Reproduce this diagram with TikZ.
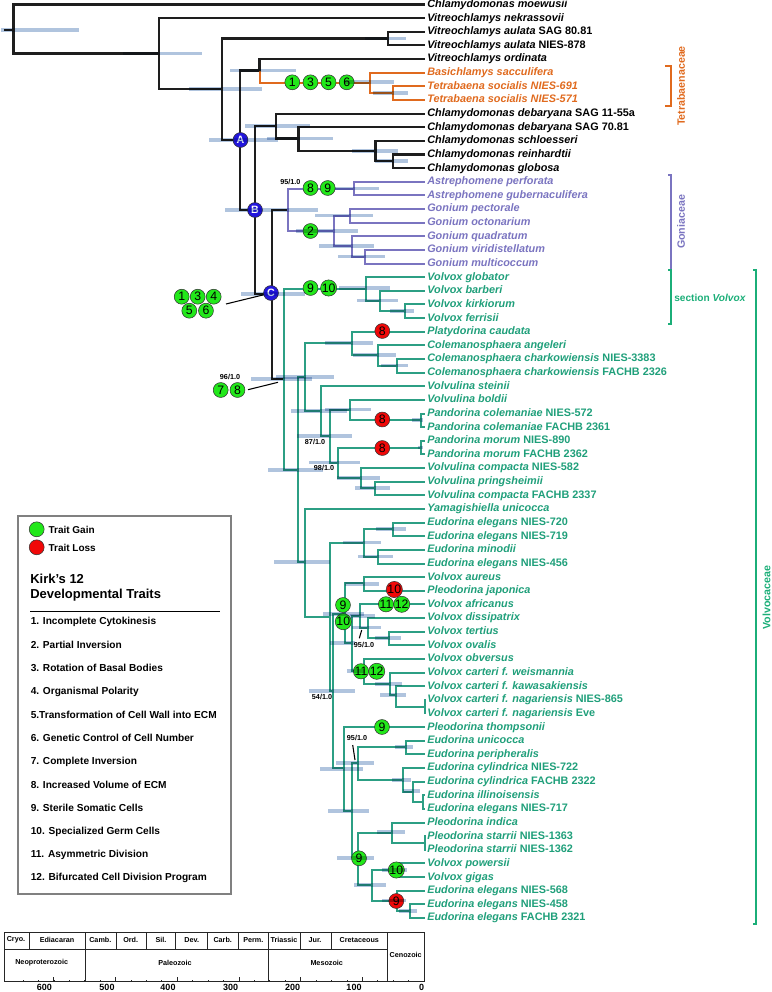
\documentclass[tikz,border=0pt]{standalone}
\usepackage{fontspec}
\setmainfont{Liberation Sans}
\definecolor{blkline}{HTML}{1E1E1E}
\definecolor{tetra}{HTML}{E06A1E}
\definecolor{goni}{HTML}{7A74C0}
\definecolor{volv}{HTML}{2C9F84}
\definecolor{volvtxt}{HTML}{1F9F7A}
\definecolor{brk}{HTML}{1BAE78}
\definecolor{gainc}{HTML}{22E81A}
\definecolor{lossc}{HTML}{F00808}
\definecolor{cladec}{HTML}{2216DC}
\definecolor{hpd}{HTML}{B0C4DE}
\begin{document}
\begin{tikzpicture}[x=.75pt, y=-.75pt, node distance={13.6pt},
  taxon/.style={anchor=west, font=\fontsize{8.15pt}{9pt}\selectfont\bfseries\itshape, inner ysep=0pt, inner xsep=1.5pt, text height=6pt, text depth=1.6pt},
  trait/.style={draw=black!80, line width=.4pt, circle, minimum size=11.2pt, inner sep=0pt, font=\fontsize{9.2pt}{10pt}\selectfont},
  gain/.style={trait, fill=gainc},
  loss/.style={trait, fill=lossc},
  clade/.style={trait, fill=cladec, text=white, font=\fontsize{8pt}{9pt}\selectfont\bfseries},
  blkedge/.style={draw=blkline, line width=1.55pt},
  orgedge/.style={draw=tetra, line width=1.5pt},
  puredge/.style={draw=goni, line width=1.5pt},
  grnedge/.style={draw=volv, line width=1.5pt},
  bar/.style={draw=hpd, line width=2.5pt, blend mode=multiply},
  support/.style={font=\fontsize{5.4pt}{6pt}\selectfont\bfseries, inner sep=0pt},
  legtext/.style={anchor=west, inner sep=0pt, font=\fontsize{7.6pt}{8pt}\selectfont\bfseries},
  era/.style={inner sep=0pt, font=\fontsize{5.4pt}{6pt}\selectfont\bfseries},
  scaleline/.style={draw=black!85, line width=.6pt}]
\useasboundingbox (0,0) rectangle (771,992);

\foreach \i/\txt/\col in {1/{Chlamydomonas moewusii}/black, 2/{Vitreochlamys nekrassovii}/black,
  3/{Vitreochlamys aulata \textup{SAG 80.81}}/black, 4/{Vitreochlamys aulata \textup{NIES-878}}/black,
  5/{Vitreochlamys ordinata}/black, 6/{Basichlamys sacculifera}/tetra,
  7/{Tetrabaena socialis NIES-691}/tetra, 8/{Tetrabaena socialis NIES-571}/tetra,
  9/{Chlamydomonas debaryana \textup{SAG 11-55a}}/black, 10/{Chlamydomonas debaryana \textup{SAG 70.81}}/black,
  11/{Chlamydomonas schloesseri}/black, 12/{Chlamydomonas reinhardtii}/black, 13/{Chlamydomonas globosa}/black,
  14/{Astrephomene perforata}/goni, 15/{Astrephomene gubernaculifera}/goni, 16/{Gonium pectorale}/goni,
  17/{Gonium octonarium}/goni, 18/{Gonium quadratum}/goni, 19/{Gonium viridistellatum}/goni, 20/{Gonium multicoccum}/goni,
  21/{Volvox globator}/volvtxt, 22/{Volvox barberi}/volvtxt, 23/{Volvox kirkiorum}/volvtxt, 24/{Volvox ferrisii}/volvtxt,
  25/{Platydorina caudata}/volvtxt, 26/{Colemanosphaera angeleri}/volvtxt,
  27/{Colemanosphaera charkowiensis \textup{NIES-3383}}/volvtxt, 28/{Colemanosphaera charkowiensis \textup{FACHB 2326}}/volvtxt,
  29/{Volvulina steinii}/volvtxt, 30/{Volvulina boldii}/volvtxt,
  31/{Pandorina colemaniae \textup{NIES-572}}/volvtxt, 32/{Pandorina colemaniae \textup{FACHB 2361}}/volvtxt,
  33/{Pandorina morum \textup{NIES-890}}/volvtxt, 34/{Pandorina morum \textup{FACHB 2362}}/volvtxt,
  35/{Volvulina compacta \textup{NIES-582}}/volvtxt, 36/{Volvulina pringsheimii}/volvtxt,
  37/{Volvulina compacta \textup{FACHB 2337}}/volvtxt, 38/{Yamagishiella unicocca}/volvtxt,
  39/{Eudorina elegans \textup{NIES-720}}/volvtxt, 40/{Eudorina elegans \textup{NIES-719}}/volvtxt,
  41/{Eudorina minodii}/volvtxt, 42/{Eudorina elegans \textup{NIES-456}}/volvtxt,
  43/{Volvox aureus}/volvtxt, 44/{Pleodorina japonica}/volvtxt, 45/{Volvox africanus}/volvtxt,
  46/{Volvox dissipatrix}/volvtxt, 47/{Volvox tertius}/volvtxt, 48/{Volvox ovalis}/volvtxt, 49/{Volvox obversus}/volvtxt,
  50/{Volvox carteri f. weismannia}/volvtxt, 51/{Volvox carteri f. kawasakiensis}/volvtxt,
  52/{Volvox carteri f. nagariensis \textup{NIES-865}}/volvtxt, 53/{Volvox carteri f. nagariensis \textup{Eve}}/volvtxt,
  54/{Pleodorina thompsonii}/volvtxt, 55/{Eudorina unicocca}/volvtxt, 56/{Eudorina peripheralis}/volvtxt,
  57/{Eudorina cylindrica \textup{NIES-722}}/volvtxt, 58/{Eudorina cylindrica \textup{FACHB 2322}}/volvtxt,
  59/{Eudorina illinoisensis}/volvtxt, 60/{Eudorina elegans \textup{NIES-717}}/volvtxt, 61/{Pleodorina indica}/volvtxt,
  62/{Pleodorina starrii \textup{NIES-1363}}/volvtxt, 63/{Pleodorina starrii \textup{NIES-1362}}/volvtxt,
  64/{Volvox powersii}/volvtxt, 65/{Volvox gigas}/volvtxt, 66/{Eudorina elegans \textup{NIES-568}}/volvtxt,
  67/{Eudorina elegans \textup{NIES-458}}/volvtxt, 68/{Eudorina elegans \textup{FACHB 2321}}/volvtxt}
  {\pgfmathsetmacro\y{4.5+13.634*(\i-1)}
   \node[taxon, text=\col] (t\i) at (425,\y) {\txt};}

\foreach \n/\x/\y in {stub/4/30, root/13.5/30, n1/159/53.5, n2/222/89, n3/388/38.5, nA/240/140, n4/259.5/70.5,
  n5/369.5/82.5, n6/393/93, nB/255/210, n7/276/126, n8/298.5/138.5, n9/375.5/151, n10/393/161, nC/272/294,
  g1/288/210, g2/354/188.5, g3/334/231, g4/350/215.5, g5/352/246, g6/365/256.5,
  v1/283.5/379, v2/365.7/288.5, v3/380/300.7, v4/405/311, v5/297.5/470, v6/305/377, v7/351.5/343, v8/378/355,
  v9/397/365.5, v10/320.7/411, v11/329.5/436, v12/350/409.5, v13/420.7/420, v14/338/462.5, v15/420.7/447.5,
  v16/361/478, v17/374.5/488, w1/305/562, w2/330/617, w3/364/542.5, w4/393/529, w5/378/556.5, w6/333/691,
  w7/345/614, w8/364/583.3, w9/351.7/643, w10/359.5/616, w11/368.3/627.7, w12/389/638, w13/364/671, w14/390/684,
  w15/396/695, w16/424.5/706.5, e1/344/768, e2/351.7/811, e3/357.7/763, e4/406/747, e5/402.7/780, e6/412.7/791.5,
  e7/422.7/802, e8/358.3/857, e9/392.3/832.7, e10/424.5/843, e11/371.7/885, e12/397/870, e13/397/900.7, e14/410/911}
  {\coordinate (\n) at (\x,\y);}

\draw[blkedge] (stub) -- (root);
\foreach \p/\c in {root/t1, root/n1, n1/t2, n1/n2, n2/n3, n2/nA, n3/t3, n3/t4, nA/n4, nA/nB, n4/t5, nB/n7, nB/nC,
  n7/t9, n7/n8, n8/t10, n8/n9, n9/t11, n9/n10, n10/t12, n10/t13, nC/v1}
  \draw[blkedge] (\p) |- (\c);
\draw[blkedge] (nC) |- (g1);
\foreach \p/\c in {n4/n5, n5/t6, n5/n6, n6/t7, n6/t8}
  \draw[orgedge] (\p) |- (\c);
\foreach \p/\c in {g1/g2, g1/g3, g2/t14, g2/t15, g3/g4, g3/g5, g4/t16, g4/t17, g5/t18, g5/g6, g6/t19, g6/t20}
  \draw[puredge] (\p) |- (\c);
\foreach \p/\c in {v1/v2, v1/v5, v2/t21, v2/v3, v3/t22, v3/v4, v4/t23, v4/t24, v5/v6, v5/w1, v6/v7, v6/v10,
  v7/t25, v7/v8, v8/t26, v8/v9, v9/t27, v9/t28, v10/t29, v10/v11, v11/v12, v11/v14, v12/t30, v12/v13, v13/t31, v13/t32,
  v14/v15, v14/v16, v15/t33, v15/t34, v16/t35, v16/v17, v17/t36, v17/t37, w1/t38, w1/w2, w2/w3, w2/w6, w3/w4, w3/w5,
  w4/t39, w4/t40, w5/t41, w5/t42, w6/w7, w6/e1, w7/w8, w7/w9, w8/t43, w8/t44, w9/w10, w9/w13, w10/t45, w10/w11,
  w11/t46, w11/w12, w12/t47, w12/t48, w13/t49, w13/w14, w14/t50, w14/w15, w15/t51, w15/w16, w16/t52, w16/t53,
  e1/t54, e1/e2, e2/e3, e2/e8, e3/e4, e3/e5, e4/t55, e4/t56, e5/t57, e5/e6, e6/t58, e6/e7, e7/t59, e7/t60,
  e8/e9, e8/e11, e9/t61, e9/e10, e10/t62, e10/t63, e11/e12, e11/e13, e12/t64, e12/t65, e13/t66, e13/e14, e14/t67, e14/t68}
  \draw[grnedge] (\p) |- (\c);

\node[gain] (a1) at (292.3,82.3) {1};
\node[gain] (a3) [right of=a1] {3};
\node[gain] (a5) [right of=a3] {5};
\node[gain] (a6) [right of=a5] {6};
\node[gain] (b8) at (310.5,188) {8};
\node[gain] (b9) [right of=b8, node distance=12.9pt] {9};
\node[gain] (b2) at (310.5,231) {2};
\node[gain] (c9) at (310.5,288) {9};
\node[gain] (c10) [right of=c9] {10};
\node[gain] (d1) at (181.7,296.7) {1};
\node[gain] (d3) [right of=d1, node distance=12pt] {3};
\node[gain] (d4) [right of=d3, node distance=12pt] {4};
\node[gain] (d5) at (189.3,310.7) {5};
\node[gain] (d6) [right of=d5, node distance=12.5pt] {6};
\node[gain] (f7) at (220.7,390) {7};
\node[gain] (f8) [right of=f7, node distance=12.6pt] {8};
\node[loss] (l1) at (382.3,331) {8};
\node[loss] (l2) at (382.3,419.5) {8};
\node[loss] (l3) at (382.3,448) {8};
\node[gain] (h9) at (343,605) {9};
\node[gain] (h10) at (343.3,621.7) {10};
\node[loss] (l4) at (394.3,589.5) {10};
\node[gain] (j11) at (386,604.3) {11};
\node[gain] (j12) [right of=j11, node distance=11.8pt] {12};
\node[gain] (k11) at (361,671.3) {11};
\node[gain] (k12) [right of=k11, node distance=11.8pt] {12};
\node[gain] (m9) at (382,727) {9};
\node[gain] (p9) at (359,858.3) {9};
\node[gain] (p10) at (396.3,870) {10};
\node[loss] (l5) at (396.3,901) {9};
\node[clade] (A) at (240.5,140) {A};
\node[clade] (B) at (255,210) {B};
\node[clade] (C) at (271,293) {C};

\foreach \y/\a/\b in {30/1/79, 53.5/123/202, 89/189/262, 38.5/365/406, 140/209/278, 70.5/230/296, 82/345/394, 93/373/408,
  126/245/310, 138.5/267/333, 151/352/398, 161/375/408, 210/225/318, 188.5/335/379, 231/296/358, 215.5/315/373,
  246/319/374, 256.5/338/385, 294/241/305, 288/339/390, 300.7/357/398, 311/390/414, 343/325/373, 355/353/396,
  365.5/381/408, 379/251/312, 377/276/334, 470/268/323, 411/291/347, 436/297/352, 409.5/325/371, 420/412/423,
  447.5/418/423, 462.5/309/360, 478/337/380, 488/355/390, 562/274/330, 542.5/343/381, 529/376/406, 556.5/358/393,
  614/323/364, 616/350/375, 584/345/379, 643/330/355, 671/347/365, 627.7/352/381, 638/375/401, 684/375/402,
  695/380/406, 691/309/355, 769/320/363, 811/328/369, 763/336/374, 747/395/413, 780/392/411, 791/403/420,
  858/337/374, 832/377/405, 885/354/386, 870/382/407, 900.7/382/406, 911/399/417}
  \draw[bar] (\a,\y) -- (\b,\y);

\node[support] (s1) at (290.3,182.3) {95/1.0};
\node[support] (s2) at (230,376.7) {96/1.0};
\node[support] (s3) at (315,442) {87/1.0};
\node[support] (s4) at (324,468) {98/1.0};
\node[support] (s5) at (364,645) {95/1.0};
\node[support] (s6) at (322,697) {54/1.0};
\node[support] (s7) at (357,738) {95/1.0};
\coordinate (q1) at (226,304);
\coordinate (q2) at (248,389.7);
\coordinate (q3) at (278,382.3);
\coordinate (q4) at (359.3,638.3);
\coordinate (q5) at (361.7,630);
\coordinate (q6) at (352.7,745);
\coordinate (q7) at (355,760);
\draw[line width=.8pt] (q1) -- (C);
\draw[line width=.8pt] (q2) -- (q3);
\draw[line width=.8pt] (q4) -- (q5);
\draw[line width=.8pt] (q6) -- (q7);

\draw[tetra, line width=1.2pt] (665,66) -| (670.7,106) -- (665,106);
\node[tetra, rotate=90, inner sep=0pt, font=\fontsize{8pt}{9pt}\selectfont\bfseries] (tetral) at (681,86) {Tetrabaenaceae};
\draw[goni, line width=1.2pt] (668,175) -| (670.7,270);
\node[goni, rotate=90, inner sep=0pt, font=\fontsize{8pt}{9pt}\selectfont\bfseries] (gonil) at (681,222) {Goniaceae};
\draw[brk, line width=1.2pt] (668,270) -| (670.7,323.7) -- (668,323.7);
\node[brk, anchor=west, inner sep=0pt, font=\fontsize{7.6pt}{9pt}\selectfont\bfseries] (sectl) at (674,297.7) {section \textit{Volvox}};
\draw[brk, line width=1.2pt] (753,270) -| (756.2,924) -- (753,924);
\node[brk, rotate=90, inner sep=0pt, font=\fontsize{8pt}{9pt}\selectfont\bfseries] (volvl) at (766.5,597.5) {Volvocaceae};

\draw[draw=black!50, line width=1.5pt, fill=white] (18.3,516) rectangle (230.7,894);
\node[gain, minimum size=11.2pt] (keyg) at (36.7,529.3) {};
\node[loss, minimum size=11.2pt] (keyl) at (36.7,547.3) {};
\node[legtext, font=\fontsize{7.5pt}{9pt}\selectfont\bfseries] (keygt) at (48.3,529.7) {Trait Gain};
\node[legtext, font=\fontsize{7.5pt}{9pt}\selectfont\bfseries] (keylt) at (48.3,548) {Trait Loss};
\node[legtext, font=\fontsize{9.75pt}{11.6pt}\selectfont\bfseries, align=left] (title) at (30,587.5) {Kirk's 12\\Developmental Traits};
\coordinate (rule1) at (30,611);
\coordinate (rule2) at (220,611);
\draw[line width=.6pt] (rule1) -- (rule2);
\foreach \i/\txt in {1/1. Incomplete Cytokinesis, 2/2. Partial Inversion, 3/3. Rotation of Basal Bodies,
  4/4. Organismal Polarity, 5/5.Transformation of Cell Wall into ECM, 6/6. Genetic Control of Cell Number,
  7/7. Complete Inversion, 8/8. Increased Volume of ECM, 9/9. Sterile Somatic Cells,
  10/10. Specialized Germ Cells, 11/11. Asymmetric Division, 12/12. Bifurcated Cell Division Program}
  {\pgfmathsetmacro\y{621.7+23.33*(\i-1)}
   \node[legtext] (item\i) at (30.5,\y) {\txt};}

\draw[scaleline] (4.3,932) rectangle (424,981.7);
\draw[scaleline] (4.3,949.3) -- (387.3,949.3);
\foreach \x in {85.7,268.3,387.3}
  \draw[scaleline] (\x,932) -- (\x,981.7);
\foreach \x in {29.3,116.7,146,175.7,207.3,238.3,300.3,331.7}
  \draw[scaleline] (\x,932) -- (\x,949.3);
\foreach \k in {0,...,26}
  \draw[scaleline] ({424-15.42*\k},981.7) -- ({424-15.42*\k},979.5);
\foreach \k in {0,...,6}
  \draw[scaleline] ({424-61.7*\k},981.7) -- ({424-61.7*\k},976.5);
\foreach \x/\txt in {16/Cryo., 57/Ediacaran, 100.3/Camb., 130.7/Ord., 161/Sil., 191.7/Dev., 222.7/Carb., 253.3/Perm.,
  284/Triassic, 315/Jur., 359.3/Cretaceous}
  \node[era] (per\x) at (\x,940) {\txt};
\foreach \x/\txt in {41.7/Neoproterozoic, 175/Paleozoic, 326.7/Mesozoic}
  \node[era] (era\x) at (\x,962.7) {\txt};
\node[era] (ceno) at (405.7,955) {Cenozoic};
\foreach \x/\txt in {44.3/600, 107/500, 168/400, 230.7/300, 292.7/200, 354/100, 421.7/0}
  \node[era, font=\fontsize{6.75pt}{8pt}\selectfont\bfseries] (tick\txt) at (\x,987.7) {\txt};
\end{tikzpicture}
\end{document}
